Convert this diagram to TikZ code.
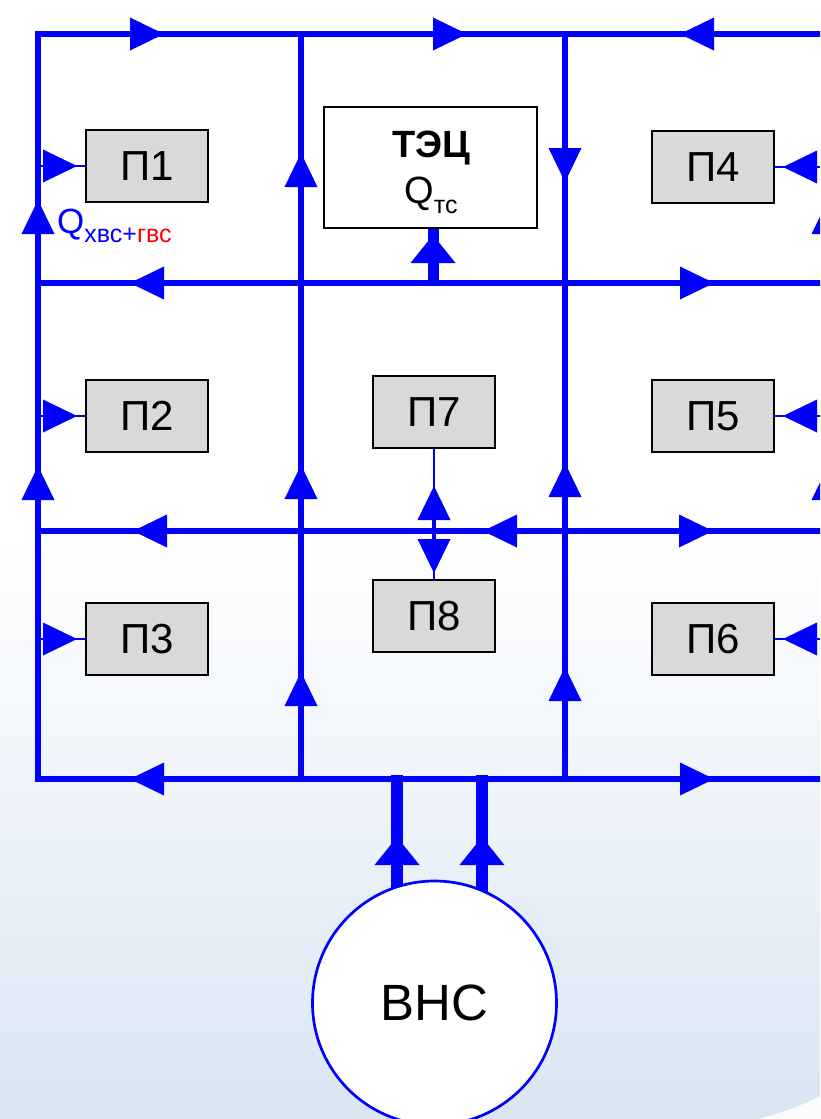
\documentclass[tikz,border=0pt]{standalone}
\usepackage{fontspec}
\setmainfont{Liberation Sans}
\usetikzlibrary{calc}
\definecolor{pipe}{HTML}{0000FF}
\definecolor{boxgray}{HTML}{D9D9D9}
\definecolor{bgbot}{HTML}{D8E6F1}
\definecolor{bgmid}{HTML}{EEF3FA}
\pgfdeclareverticalshading{bgshade}{100bp}{color(0bp)=(bgbot); color(25bp)=(bgbot); color(39bp)=(bgmid); color(51bp)=(white); color(100bp)=(white)}
\begin{document}
\begin{tikzpicture}[x=1pt,y=-1pt,
  grid/.style={draw=pipe, line width=6pt, line cap=rect},
  feed/.style={draw=pipe, line width=2pt},
  trunk/.style={draw=pipe, line width=11.5pt},
  pbox/.style={draw=black, line width=2pt, fill=boxgray, minimum width=122pt, minimum height=72pt, inner sep=0pt, font=\fontsize{42}{48}\selectfont},
  tri/.pic={\fill[pipe] (0,0) -- (-34,16.5) -- (-34,-16.5) -- cycle;},
  bigtri/.pic={\fill[pipe] (0,0) -- (-28,22.5) -- (-28,-22.5) -- cycle;},
]
\useasboundingbox (0,0) rectangle (820,1119);
\clip (0,0) rectangle (820,1119);
\shade[shading=bgshade] (0,0) rectangle (820,1119);
\fill[white, opacity=0.85] (758,1119) .. controls (785,1112) and (805,1104) .. (820,1096) -- (820,1119) -- cycle;

% grid coordinates g<col><row>
\foreach \n/\x in {1/38,2/301,3/565,4/828}{
  \foreach \m/\y in {1/34,2/283,3/531,4/779}{
    \coordinate (g\n\m) at (\x,\y);
  }
}
\foreach \m in {1,2,3,4} \draw[grid] (g1\m) -- (g4\m);
\foreach \n in {1,2,3,4} \draw[grid] (g\n1) -- (g\n4);

% arrowheads on horizontal mains
\pic at (164,34) {tri};
\pic at (467,34) {tri};
\pic[rotate=180] at (680,34) {tri};
\pic[rotate=180] at (130,283) {tri};
\pic at (714,283) {tri};
\pic[rotate=180] at (133,531) {tri};
\pic[rotate=180] at (483,531) {tri};
\pic at (713,531) {tri};
\pic[rotate=180] at (130,779) {tri};
\pic at (714,779) {tri};
% arrowheads on vertical mains
\pic[rotate=90] at (38,200) {tri};
\pic[rotate=90] at (38,466) {tri};
\pic[rotate=90] at (301,153) {tri};
\pic[rotate=90] at (301,465) {tri};
\pic[rotate=90] at (301,672) {tri};
\pic[rotate=-90] at (565,182) {tri};
\pic[rotate=90] at (565,463) {tri};
\pic[rotate=90] at (565,667) {tri};
\pic[rotate=90] at (828,200) {tri};
\pic[rotate=90] at (828,466) {tri};

% consumers
\node[pbox] (p1) at (147,166) {П1};
\node[pbox] (p2) at (147,416) {П2};
\node[pbox] (p3) at (147,639) {П3};
\node[pbox] (p4) at (713,167) {П4};
\node[pbox] (p5) at (713,416) {П5};
\node[pbox] (p6) at (713,639) {П6};
\node[pbox] (p7) at (434,412) {П7};
\node[pbox] (p8) at (434,616) {П8};

\foreach \p in {1,2,3}{
  \draw[feed] (p\p -| g11) -- (p\p.west);
  \pic at ($(p\p.west)+(-8,0)$) {tri};
}
\foreach \p in {4,5,6}{
  \draw[feed] (p\p -| g41) -- (p\p.east);
  \pic[rotate=180] at ($(p\p.east)+(8,0)$) {tri};
}
\draw[feed] (p7.south) -- (p8.north);
\coordinate (c78a) at (434,518);
\coordinate (c78b) at (434,541);
\draw[draw=pipe, line width=4pt] (c78a) -- (c78b);
\pic[rotate=90] at (434,486) {tri};
\pic[rotate=-90] at (434,573) {tri};

% heat plant
\node[draw=black, line width=2pt, fill=white, minimum width=213pt, minimum height=121pt, inner sep=0pt] (tec) at (430.5,167.5) {};
\node[anchor=base, inner sep=0pt, font=\fontsize{38}{44}\selectfont\bfseries] (tecname) at (431,157) {ТЭЦ};
\node[anchor=base, inner sep=0pt, font=\fontsize{38}{44}\selectfont] (tecq) at (431,203) {Q\raisebox{-10pt}{\fontsize{25}{25}\selectfont тс}};
\coordinate (tecin) at (433,286);
\draw[trunk, line width=11pt] (tecin) -- (tecin |- tec.south);
\pic[rotate=90] at (433,235) {bigtri};

% pumping station
\coordinate (a1) at (397,775);
\coordinate (a2) at (482,775);
\coordinate (a1e) at (397,905);
\coordinate (a2e) at (482,905);
\draw[trunk] (a1) -- (a1e);
\draw[trunk] (a2) -- (a2e);
\pic[rotate=90] at (397,837) {bigtri};
\pic[rotate=90] at (482,837) {bigtri};
\node[circle, draw=pipe, line width=2.7pt, fill=white, minimum size=244pt, inner sep=0pt, font=\fontsize{51}{56}\selectfont] (vns) at (434.5,1003) {ВНС};

% flow label
\node[anchor=base west, inner sep=0pt, text=pipe, font=\fontsize{35}{40}\selectfont] (qlab) at (57,233) {Q\raisebox{-9pt}{\fontsize{25}{25}\selectfont хвс+\textcolor{red}{гвс}}};
\end{tikzpicture}
\end{document}
